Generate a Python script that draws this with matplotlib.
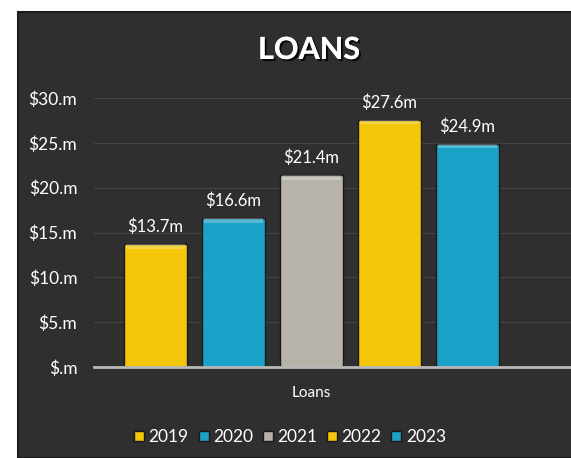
import matplotlib.pyplot as plt
import matplotlib.patheffects as pe
from matplotlib.patches import Rectangle
from matplotlib.lines import Line2D

plt.rcParams['font.family'] = ['Lato', 'DejaVu Sans']

years = ['2019', '2020', '2021', '2022', '2023']
loans = [13.7, 16.6, 21.4, 27.6, 24.9]
colors = ['#f3c60a', '#1ba2c8', '#b7b3aa', '#f3c60a', '#1ba2c8']
yticks = [0, 5, 10, 15, 20, 25, 30]

fig = plt.figure(figsize=(5.71, 4.58), dpi=100, facecolor='white')

# dark slide panel behind the chart
fig.patches.append(Rectangle((18 / 571, 0), 1, (458 - 12) / 458,
                             transform=fig.transFigure, facecolor='#2f2f2f',
                             edgecolor='#1c1c1c', lw=1.5, zorder=-10))

ax = fig.add_axes([94 / 571, (458 - 367) / 458, 1 - 94 / 571, 269 / 458])
ax.set_facecolor('none')
ax.set_zorder(2)

x = list(range(len(years)))
bars = ax.bar(x, loans, width=0.81, color=colors, edgecolor='#1a1a1a',
              linewidth=1.0, zorder=3)

# simple bevel highlight along the top of each bar
for b in bars:
    ax.bar(b.get_x() + b.get_width() / 2, 0.5, bottom=b.get_height() - 0.5,
           width=b.get_width() * 0.94, color='white', alpha=0.25, lw=0, zorder=4)

for xi, v in zip(x, loans):
    ax.text(xi, v + 1.0, f'${v:.1f}m', ha='center', va='bottom',
            color='white', fontsize=12, zorder=5)

ax.set_xlim(-0.79, 5.33)
ax.set_ylim(0, 30)
ax.set_yticks(yticks)
ax.set_yticklabels([f'${t}.m' if t else '$.m' for t in yticks],
                   color='white', fontsize=12.5)
ax.tick_params(axis='y', length=0, pad=12)
ax.set_xticks([])
ax.grid(axis='y', color='#454545', lw=0.8, zorder=0)
for s in ['top', 'right', 'left']:
    ax.spines[s].set_visible(False)
ax.spines['bottom'].set_color('#b8b8b8')
ax.spines['bottom'].set_linewidth(2)
ax.spines['bottom'].set_zorder(6)

fig.text(309 / 571, 1 - 50 / 458, 'LOANS', ha='center', va='center',
         color='white', fontsize=22, fontweight='bold',
         path_effects=[pe.withSimplePatchShadow(offset=(1.5, -1.5),
                                                shadow_rgbFace='black', alpha=0.8),
                       pe.Normal()])
fig.text(311 / 571, 1 - 393 / 458, 'Loans', ha='center', va='center',
         color='white', fontsize=11)

handles = [Line2D([], [], marker='s', ls='none', markersize=7,
                  markerfacecolor=c, markeredgecolor='#1a1a1a') for c in colors]
fig.legend(handles, years, loc='center', bbox_to_anchor=(290 / 571, 1 - 437 / 458),
           ncol=5, frameon=False, fontsize=12.5, labelcolor='white',
           handlelength=0.6, handletextpad=0.25, columnspacing=0.55)

fig.savefig('out.png', dpi=100, facecolor=fig.get_facecolor())
